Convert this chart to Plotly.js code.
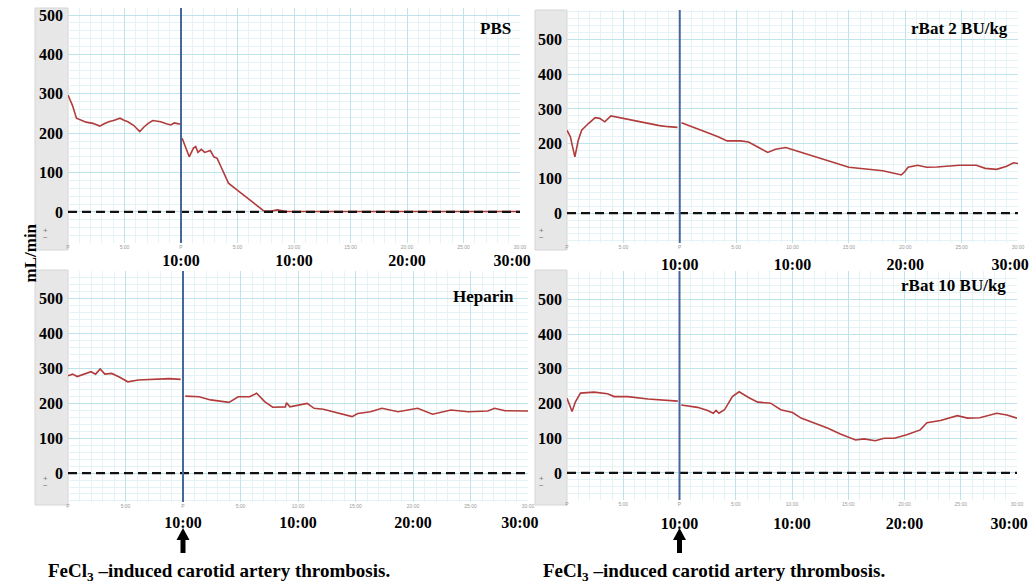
<!DOCTYPE html>
<html>
<head>
<meta charset="utf-8">
<script src="https://cdn.plot.ly/plotly-3.0.1.min.js"></script>
<style>html,body{margin:0;padding:0;background:#fff;}#chart{width:1034px;height:587px;}</style>
</head>
<body>
<div id="chart"></div>
<script>
// ---------- DATA (minutes relative to FeCl3 injury; flow in mL/min) ----------
const panelNames = ["PBS", "rBat 2 BU/kg", "Heparin", "rBat 10 BU/kg"];
const injuryTime = 0;
const baselineTime = [-10, 30];
const baselineFlow = [0, 0];

const pbsTime = [-10, -9.6, -9.25, -8.97, -8.4, -7.8, -7.2, -6.8, -6.4, -5.9, -5.4, -5.0, -4.7, -4.2, -3.65, -3.3, -2.9, -2.5, -1.8, -1.3, -0.9, -0.6, -0.1, 0,
  0.1, 0.35, 0.73, 1.1, 1.3, 1.5, 1.8, 2.1, 2.6, 2.9, 3.2, 3.6, 4.2, 4.95, 5.85, 6.7, 7.3, 8.0, 8.5, 9.4, 12, 15, 20, 25, 30];
const pbsFlow = [297, 270, 238, 235, 228, 225, 218, 224, 229, 233, 238, 232, 229, 220, 204, 215, 225, 232, 229, 224, 221, 226, 223, null,
  187, 166, 140, 162, 166, 151, 159, 151, 156, 140, 136, 111, 73, 56, 35, 15, 3, 2, 5, 1, 1, 1, 1, 1, 1];

const rbat2Time = [-10, -9.7, -9.5, -9.3, -9.0, -8.7, -8.1, -7.5, -7.1, -6.65, -6.1, -5.5, -4.7, -4.0, -3.3, -2.5, -1.8, -1.0, -0.2, 0,
  0.15, 1.1, 1.8, 2.6, 3.4, 4.2, 5.4, 6.1, 7.0, 7.8, 8.5, 9.4, 10.6, 12.1, 13.6, 15.0, 16.5, 18.0, 19.1, 19.65, 19.95, 20.25, 21.1, 21.9, 22.8, 24.8, 26.3, 27.1, 28.1, 29.0, 29.6, 30];
const rbat2Flow = [239, 220, 190, 162, 210, 239, 258, 275, 273, 263, 280, 276, 270, 266, 261, 256, 252, 249, 247, null,
  260, 249, 241, 230, 220, 208, 208, 205, 189, 175, 184, 189, 177, 162, 148, 132, 127, 122, 114, 110, 119, 132, 138, 132, 133, 138, 138, 129, 126, 135, 145, 143];

const heparinTime = [-10, -9.6, -9.2, -8.7, -8.0, -7.6, -7.2, -6.8, -6.2, -5.5, -4.8, -3.9, -2.3, -1.2, -0.2, 0,
  0.2, 1.4, 2.4, 3.2, 4.0, 4.8, 5.8, 6.4, 7.1, 7.8, 8.9, 9.0, 9.3, 10.8, 11.4, 12.2, 13.4, 14.7, 15.2, 16.3, 17.3, 18.7, 20.4, 21.7, 23.3, 24.8, 26.5, 27.1, 28.0, 30];
const heparinFlow = [279, 284, 277, 282, 291, 284, 299, 284, 286, 275, 262, 267, 269, 271, 269, null,
  221, 219, 210, 207, 203, 219, 219, 229, 205, 189, 190, 202, 190, 200, 186, 183, 173, 162, 171, 176, 186, 176, 186, 169, 181, 176, 178, 186, 179, 178];

const rbat10Time = [-10, -9.55, -9.25, -8.8, -7.6, -6.4, -5.8, -4.6, -2.8, -0.15, 0,
  0.15, 1.6, 2.5, 3.0, 3.25, 3.5, 4.0, 4.7, 5.3, 6.1, 6.95, 8.1, 9.0, 10.05, 10.8, 12.0, 13.2, 14.3, 15.65, 16.4, 17.4, 18.2, 19.1, 20.2, 21.4, 22.0, 23.2, 24.7, 25.6, 26.7, 28.2, 29.1, 30];
const rbat10Flow = [215, 177, 205, 230, 233, 228, 220, 220, 213, 207, null,
  196, 189, 180, 172, 180, 172, 182, 220, 234, 218, 204, 201, 182, 174, 158, 143, 129, 112, 95, 98, 93, 100, 100, 110, 124, 145, 151, 165, 158, 159, 172, 167, 158];

const timeTickVals = [0, 10, 20, 29.3];
const timeTickText = ["10:00", "10:00", "20:00", "30:00"];
const smallTickVals = [-10, -5, 0, 5, 10, 15, 20, 25, 30];
const smallTickText = ["P", "5:00", "P", "5:00", "10:00", "15:00", "20:00", "25:00", "30:00"];
const yTitle = "mL/min";
const caption = "FeCl<sub>3</sub> \u2013induced carotid artery thrombosis.";

// ---------- LAYOUT (pixel geometry) ----------
const W = 1034, H = 587;
const px = p => p / W;
const py = p => 1 - p / H;
const serif = "Liberation Serif, Times New Roman, serif";

const panels = [
  {t: pbsTime, v: pbsFlow, x0: 68, x1: 520, top: 8, bot: 243, yr: [-79, 518], strip: [35, 8, 68, 250], lab: [513, 28], lso: 6},
  {t: rbat2Time, v: rbat2Flow, x0: 567, x1: 1018, top: 10, bot: 243, yr: [-86, 585], strip: [535, 10, 567, 250], lab: [1010, 28], lso: 10},
  {t: heparinTime, v: heparinFlow, x0: 68, x1: 528, top: 271, bot: 502, yr: [-83, 580], strip: [35, 270, 68, 505], lab: [516, 297], lso: 9},
  {t: rbat10Time, v: rbat10Flow, x0: 567, x1: 1017, top: 271, bot: 500, yr: [-78, 582], strip: [535, 270, 567, 505], lab: [1008, 286], lso: 12}
];

const data = [];
const layout = {
  width: W, height: H,
  margin: {l: 0, r: 0, t: 0, b: 0},
  paper_bgcolor: "#ffffff", plot_bgcolor: "#ffffff",
  showlegend: false,
  shapes: [], annotations: []
};

const xr = [-10, 30];
panels.forEach((p, i) => {
  const n = i + 1;
  const xa = n === 1 ? "x" : "x" + n;
  const ya = n === 1 ? "y" : "y" + n;
  const lx = "x" + (n + 4);
  const xKey = n === 1 ? "xaxis" : "xaxis" + n;
  const yKey = n === 1 ? "yaxis" : "yaxis" + n;
  layout[xKey] = {
    domain: [px(p.x0), px(p.x1)], range: xr, anchor: ya,
    tickmode: "array", tickvals: smallTickVals, ticktext: smallTickText,
    tickfont: {family: "Liberation Sans, Arial", size: 5, color: "#9a9a9a"},
    ticks: "", ticklabelstandoff: 0, ticklabeloverflow: "allow",
    showgrid: true, gridcolor: "#bfe3ea", gridwidth: 1,
    minor: {dtick: 1, tick0: -10, showgrid: true, gridcolor: "#e4f3f6", gridwidth: 1},
    zeroline: false, showline: false, fixedrange: true
  };
  layout[yKey] = {
    domain: [py(p.bot), py(p.top)], range: p.yr, anchor: xa,
    tickmode: "linear", tick0: 0, dtick: 100,
    tickfont: {family: serif, size: 16, color: "#000", weight: 700},
    ticks: "", ticklabelstandoff: 4, ticklabeloverflow: "allow",
    showgrid: true, gridcolor: "#bfe3ea", gridwidth: 1,
    minor: {dtick: 20, tick0: 0, showgrid: true, gridcolor: "#e4f3f6", gridwidth: 1},
    zeroline: false, showline: false, fixedrange: true
  };
  layout["xaxis" + (n + 4)] = {
    overlaying: xa, anchor: ya, side: "bottom", range: xr,
    tickmode: "array", tickvals: timeTickVals, ticktext: timeTickText,
    tickfont: {family: serif, size: 16, color: "#000", weight: 700},
    ticks: "", ticklabelstandoff: p.lso, ticklabeloverflow: "allow",
    showgrid: false, zeroline: false, showline: false, fixedrange: true
  };
  // gray control strip of the recorder on the left
  layout.shapes.push({type: "rect", xref: "paper", yref: "paper", layer: "below",
    x0: px(p.strip[0]), x1: px(p.strip[2]), y0: py(p.strip[3]), y1: py(p.strip[1]),
    fillcolor: "#e7e7e7", line: {color: "#d6d6d6", width: 1}});
  // injury marker (blue line)
  layout.shapes.push({type: "line", xref: xa, yref: ya + " domain", layer: "above",
    x0: injuryTime, x1: injuryTime, y0: 0, y1: 1, line: {color: "#46679b", width: 2}});
  // zero baseline (dashed) on label axis
  data.push({x: baselineTime, y: baselineFlow, xaxis: lx, yaxis: ya, type: "scatter", mode: "lines",
    line: {color: "#111", width: 2.2, dash: "9px,5px"}, hoverinfo: "skip"});
  // flow trace
  data.push({x: p.t, y: p.v, xaxis: xa, yaxis: ya, type: "scatter", mode: "lines",
    line: {color: "#b23b3b", width: 1.6}, connectgaps: false, hoverinfo: "skip"});
  // panel label
  layout.annotations.push({xref: "paper", yref: "paper", x: px(p.lab[0]), y: py(p.lab[1]),
    xanchor: "right", yanchor: "middle", showarrow: false, text: "<b>" + panelNames[i] + "</b>",
    font: {family: serif, size: 17, color: "#000"}});
  // tiny + and - controls in the strip
  layout.annotations.push({xref: "paper", yref: "paper", x: px(p.strip[0] + 6), y: py(p.strip[3] - 20),
    showarrow: false, text: "+", font: {family: "Liberation Sans", size: 8, color: "#777"}});
  layout.annotations.push({xref: "paper", yref: "paper", x: px(p.strip[0] + 6), y: py(p.strip[3] - 13),
    showarrow: false, text: "\u2212", font: {family: "Liberation Sans", size: 8, color: "#777"}});
});

// y-axis title
layout.annotations.push({xref: "paper", yref: "paper", x: px(18), y: py(253), textangle: -90,
  showarrow: false, text: "<b>" + yTitle + "</b>", font: {family: serif, size: 17, color: "#000"}});

// arrows (drawn as pixel-sized paths anchored at the injury time) + captions under bottom panels
const arrowPath = "M -2.5 0 L 2.5 0 L 2.5 13 L 6.5 13 L 0 25 L -6.5 13 L -2.5 13 Z";
["x3", "x4"].forEach((xa, k) => {
  layout.shapes.push({type: "path", xref: xa, yref: "paper", xsizemode: "pixel", ysizemode: "pixel",
    xanchor: injuryTime, yanchor: py(553), path: arrowPath, fillcolor: "#000", line: {width: 0}});
  layout.annotations.push({xref: "paper", yref: "paper", x: px(k === 0 ? 219 : 714), y: py(572),
    xanchor: "center", yanchor: "middle", showarrow: false, text: "<b>" + caption + "</b>",
    font: {family: serif, size: 19, color: "#000"}});
});

Plotly.newPlot("chart", data, layout, {staticPlot: true, displayModeBar: false});
</script>
</body>
</html>
